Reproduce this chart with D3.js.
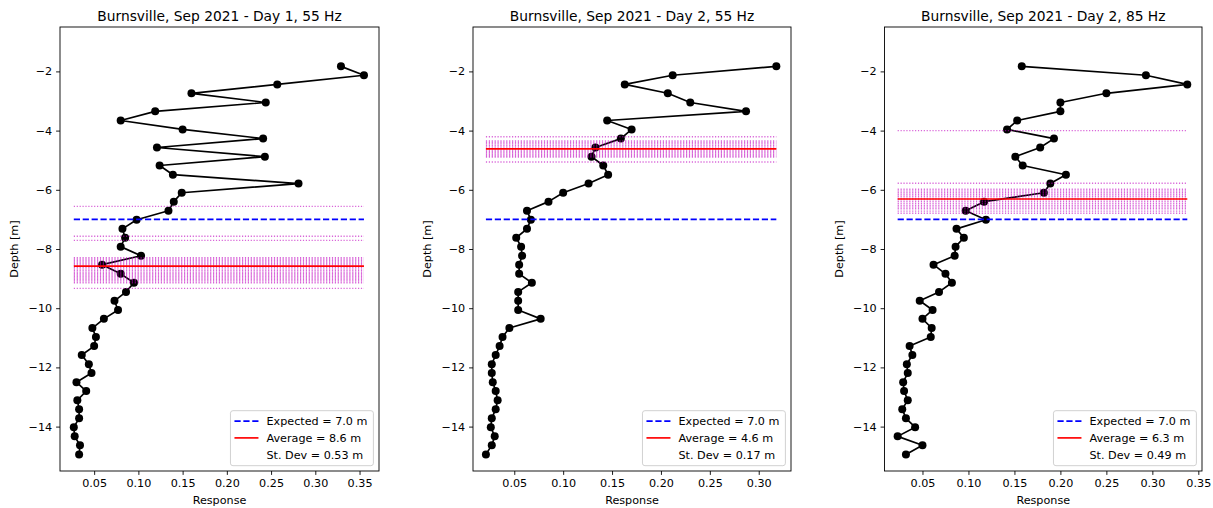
<!DOCTYPE html>
<html>
<head>
<meta charset="utf-8">
<script src="https://cdn.jsdelivr.net/npm/d3@7"></script>
<style>
  html, body { margin: 0; padding: 0; background: #fff; }
  svg { display: block; font-family: "DejaVu Sans", sans-serif; }
</style>
</head>
<body>
<svg id="chart" width="1213" height="508"></svg>
<script>
// ---- data ----
const depths = [-1.83, -2.13, -2.44, -2.74, -3.05, -3.35, -3.66, -3.96, -4.27, -4.57, -4.88,
  -5.18, -5.49, -5.79, -6.10, -6.40, -6.71, -7.01, -7.32, -7.62, -7.92, -8.23, -8.53, -8.84,
  -9.14, -9.45, -9.75, -10.06, -10.36, -10.67, -10.97, -11.28, -11.58, -11.89, -12.19, -12.50,
  -12.80, -13.11, -13.41, -13.72, -14.02, -14.33, -14.63, -14.94];

const response1 = [0.329, 0.355, 0.257, 0.160, 0.244, 0.119, 0.080, 0.150, 0.241, 0.121, 0.243,
  0.124, 0.139, 0.281, 0.149, 0.140, 0.134, 0.098, 0.082, 0.085, 0.080, 0.103, 0.059, 0.080,
  0.095, 0.086, 0.073, 0.077, 0.061, 0.048, 0.052, 0.050, 0.036, 0.044, 0.047, 0.030, 0.041,
  0.031, 0.033, 0.033, 0.027, 0.028, 0.034, 0.033];

const response2 = [0.318, 0.212, 0.163, 0.207, 0.230, 0.287, 0.145, 0.170, 0.159, 0.133, 0.129,
  0.141, 0.146, 0.126, 0.100, 0.085, 0.063, 0.067, 0.063, 0.052, 0.057, 0.058, 0.055, 0.055,
  0.068, 0.054, 0.054, 0.054, 0.077, 0.045, 0.038, 0.035, 0.031, 0.027, 0.027, 0.028, 0.031,
  0.033, 0.031, 0.027, 0.026, 0.030, 0.027, 0.021];

const response3 = [0.158, 0.293, 0.338, 0.250, 0.200, 0.200, 0.153, 0.142, 0.193, 0.178, 0.151,
  0.159, 0.206, 0.189, 0.182, 0.117, 0.097, 0.119, 0.087, 0.095, 0.086, 0.085, 0.062, 0.075,
  0.082, 0.068, 0.047, 0.061, 0.050, 0.060, 0.059, 0.036, 0.039, 0.033, 0.034, 0.029, 0.030,
  0.034, 0.028, 0.032, 0.042, 0.023, 0.050, 0.032];

// individual depth estimates (m, positive down) drawn as dotted magenta lines
const estimates1 = [6.56, 7.57, 7.71, 8.29, 8.34, 8.39, 8.44, 8.49, 8.54, 8.63, 8.68, 8.73,
  8.78, 8.83, 8.88, 8.93, 8.98, 9.03, 9.08, 9.14, 9.33];
const estimates2 = [4.21, 4.35, 4.40, 4.45, 4.50, 4.55, 4.60, 4.65, 4.70, 4.75, 4.80, 4.85,
  4.89, 5.06];
const estimates3 = [4.00, 5.78, 5.98, 6.04, 6.10, 6.16, 6.22, 6.28, 6.34, 6.40, 6.46, 6.52,
  6.58, 6.64, 6.72, 6.79];

const titles = ["Burnsville, Sep 2021 - Day 1, 55 Hz", "Burnsville, Sep 2021 - Day 2, 55 Hz",
  "Burnsville, Sep 2021 - Day 2, 85 Hz"];
const expectedDepths = [7.0, 7.0, 7.0];
const averageDepths = [8.58, 4.62, 6.31];
const stdevs = [0.53, 0.17, 0.49];

const xTicks1 = [0.05, 0.10, 0.15, 0.20, 0.25, 0.30, 0.35];
const xTicks2 = [0.05, 0.10, 0.15, 0.20, 0.25, 0.30];
const xTicks3 = [0.05, 0.10, 0.15, 0.20, 0.25, 0.30, 0.35];
const yTicks = [-2, -4, -6, -8, -10, -12, -14];

// ---- layout ----
const svg = d3.select("#chart");
const panels = [
  { left: 60, right: 379, xDomain: [0.0114, 0.372], resp: response1, est: estimates1, xTicks: xTicks1 },
  { left: 473, right: 791, xDomain: [0.0078, 0.333], resp: response2, est: estimates2, xTicks: xTicks2 },
  { left: 884.5, right: 1202, xDomain: [0.0087, 0.354], resp: response3, est: estimates3, xTicks: xTicks3 }
];
const plotTop = 27, plotBottom = 471;
const yDomain = [-15.5, -0.5];
const fmtTick = v => (v < 0 ? "\u2212" + Math.abs(v) : String(v));

panels.forEach((p, i) => {
  const x = d3.scaleLinear().domain(p.xDomain).range([p.left, p.right]);
  const y = d3.scaleLinear().domain(yDomain).range([plotBottom, plotTop]);
  const g = svg.append("g");
  const pts = p.resp.map((r, k) => ({ r, d: depths[k] }));
  const xmin = d3.min(p.resp), xmax = d3.max(p.resp);

  // data line + markers
  g.append("path")
    .datum(pts)
    .attr("fill", "none").attr("stroke", "#000").attr("stroke-width", 1.67)
    .attr("stroke-linejoin", "round")
    .attr("d", d3.line().x(d => x(d.r)).y(d => y(d.d)));
  g.selectAll("circle.pt").data(pts).join("circle")
    .attr("class", "pt")
    .attr("cx", d => x(d.r)).attr("cy", d => y(d.d)).attr("r", 4)
    .attr("fill", "#000");

  // estimate lines
  g.selectAll("line.est").data(p.est).join("line")
    .attr("class", "est")
    .attr("x1", x(xmin)).attr("x2", x(xmax))
    .attr("y1", d => y(-d)).attr("y2", d => y(-d))
    .attr("stroke", "#bf00bf").attr("stroke-opacity", 0.6)
    .attr("stroke-width", 1.4).attr("stroke-dasharray", "1.2,1.7");

  // expected (blue dashed)
  g.append("line")
    .attr("x1", x(xmin)).attr("x2", x(xmax))
    .attr("y1", y(-expectedDepths[i])).attr("y2", y(-expectedDepths[i]))
    .attr("stroke", "#0000ff").attr("stroke-width", 1.67).attr("stroke-dasharray", "6.2,2.7");

  // average (red)
  g.append("line")
    .attr("x1", x(xmin)).attr("x2", x(xmax))
    .attr("y1", y(-averageDepths[i])).attr("y2", y(-averageDepths[i]))
    .attr("stroke", "#ff0000").attr("stroke-width", 1.67);

  // axes
  const xAxis = d3.axisBottom(x).tickValues(p.xTicks).tickFormat(d3.format(".2f")).tickSize(3.9).tickPadding(3.9);
  const yAxis = d3.axisLeft(y).tickValues(yTicks).tickFormat(fmtTick).tickSize(3.9).tickPadding(3.9);
  const gx = g.append("g").attr("transform", `translate(0,${plotBottom})`).call(xAxis);
  const gy = g.append("g").attr("transform", `translate(${p.left},0)`).call(yAxis);
  [gx, gy].forEach(a => {
    a.select(".domain").remove();
    a.selectAll("text").attr("font-size", 11.2).attr("font-family", "DejaVu Sans").attr("fill", "#000");
    a.selectAll("line").attr("stroke", "#000").attr("stroke-width", 0.9);
  });

  // frame
  g.append("rect")
    .attr("x", p.left).attr("y", plotTop).attr("width", p.right - p.left).attr("height", plotBottom - plotTop)
    .attr("fill", "none").attr("stroke", "#000").attr("stroke-width", 0.9);

  // titles and labels
  const cx = (p.left + p.right) / 2;
  g.append("text").attr("x", cx).attr("y", 21).attr("text-anchor", "middle")
    .attr("font-size", 13.8).attr("fill", "#000").text(titles[i]);
  g.append("text").attr("x", cx).attr("y", 504).attr("text-anchor", "middle")
    .attr("font-size", 11.2).attr("fill", "#000").text("Response");
  g.append("text")
    .attr("transform", `translate(${p.left - 42},${(plotTop + plotBottom) / 2}) rotate(-90)`)
    .attr("text-anchor", "middle").attr("font-size", 11.2).attr("fill", "#000").text("Depth [m]");

  // legend
  const lg = g.append("g");
  const labels = [
    `Expected = ${expectedDepths[i].toFixed(1)} m`,
    `Average = ${averageDepths[i].toFixed(1)} m`,
    `St. Dev = ${stdevs[i].toFixed(2)} m`
  ];
  const box = lg.append("rect").attr("rx", 2.5).attr("fill", "#fff").attr("fill-opacity", 0.8)
    .attr("stroke", "#cccccc").attr("stroke-width", 0.9);
  const texts = labels.map((t, k) => lg.append("text").attr("font-size", 11.2).attr("fill", "#000")
    .attr("x", 36).attr("y", 10.5 + k * 16.7).attr("dy", "0.35em").text(t));
  const tw = d3.max(texts, t => t.node().getComputedTextLength());
  const bw = 36 + tw + 6, bh = 55;
  box.attr("x", 0).attr("y", 0).attr("width", bw).attr("height", bh);
  lg.append("line").attr("x1", 4).attr("x2", 28).attr("y1", 10.5).attr("y2", 10.5)
    .attr("stroke", "#0000ff").attr("stroke-width", 1.67).attr("stroke-dasharray", "6.2,2.7");
  lg.append("line").attr("x1", 4).attr("x2", 28).attr("y1", 27.2).attr("y2", 27.2)
    .attr("stroke", "#ff0000").attr("stroke-width", 1.67);
  lg.attr("transform", `translate(${p.right - 5.6 - bw},${plotBottom - 5.3 - bh})`);
});
</script>
</body>
</html>
